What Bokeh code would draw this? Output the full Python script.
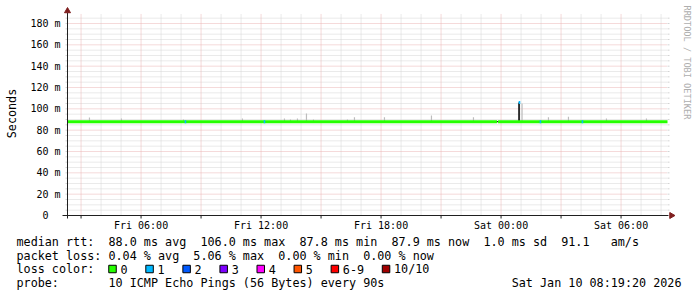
import math
from bokeh.plotting import figure
from bokeh.models import Range1d
from bokeh.embed import file_html
from bokeh.resources import INLINE
from bokeh.core.properties import value

# ---------------- data ----------------
t_start = 2 + 19 / 60 + 20 / 3600      # Fri 02:19:20, hours since Fri 00:00
t_span = 30.0                          # hours shown
t_end = t_start + t_span

x_label_hours = [6, 12, 18, 24, 30]
x_label_text = ["Fri 06:00", "Fri 12:00", "Fri 18:00", "Sat 00:00", "Sat 06:00"]
y_tick_ms = [0, 20, 40, 60, 80, 100, 120, 140, 160, 180]
y_tick_text = ["0\u00a0\u00a0", "20 m", "40 m", "60 m", "80 m", "100 m",
               "120 m", "140 m", "160 m", "180 m"]
y_top = 189.4                          # top of the plot area (ms)

# median rtt runs (ms), drawn in loss colour 0
med_from = [t_start, 23.85]
med_to = [23.80, t_end]
med_ms = [88.0, 88.0]

# short median samples with packet loss
loss_t = [8.22, 12.17, 24.92, 25.97, 28.07]
loss_ms = [88.0, 88.0, 106.0, 88.0, 88.0]
loss_count = [1, 1, 1, 1, 1]

# smoke (spread of the pings) spikes
smoke_t = [3.42, 5.02, 8.12, 11.07, 13.17, 13.47, 13.82, 14.27, 14.62, 16.32,
           16.67, 18.17, 20.52, 22.62, 25.05, 26.37, 27.37, 29.27, 31.27]
smoke_lo = [87.0] * 19
smoke_hi = [91.9, 90.9, 90.0, 91.0, 91.0, 90.0, 91.0, 95.6, 90.0, 90.0,
            92.0, 92.0, 93.7, 92.0, 105.0, 92.0, 92.5, 91.0, 91.0]
dense_t = [23.825, 24.90]
dense_lo = [87.4, 87.0]
dense_hi = [88.6, 106.0]

# legend statistics
med_avg, med_max, med_min, med_now, med_sd, med_ams = 88.0, 106.0, 87.8, 87.9, 1.0, 91.1
pl_avg, pl_max, pl_min, pl_now = 0.04, 5.06, 0.00, 0.00
loss_labels = ["0", "1", "2", "3", "4", "5", "6-9", "10/10"]
loss_colors = ["#26ff00", "#00b8ff", "#0059ff", "#7e00ff", "#ff00ff",
               "#ff5500", "#ff0000", "#a00000"]
probe_text = "10 ICMP Echo Pings (56 Bytes) every 90s"
stamp_text = "Sat Jan 10 08:19:20 2026"

# ---------------- styling / geometry ----------------
MONO = "DejaVu Sans Mono"
NB = "\u00a0"
W, H = 697, 297
PX_H = 20.0            # pixels per hour
PX_MS = 192.0 / 180.0  # pixels per ms
AX_X, AX_Y = 67, 215   # canvas position of the axes origin
GRID = "#d4d4d4"
MGRID = "#eab4b4"
AXIS = "#202020"
ARROW = "#7f1f1f"

xs = t_start - AX_X / PX_H
ys = -(H - AX_Y) / PX_MS


def X(px):
    return xs + px / PX_H


def Y(py):
    return (AX_Y - py) / PX_MS


p = figure(width=W, height=H, output_backend="svg", toolbar_location=None,
           x_range=Range1d(xs, xs + W / PX_H), y_range=Range1d(ys, ys + H / PX_MS),
           min_border=0, x_axis_location=None, y_axis_location=None,
           background_fill_color="white", border_fill_color="white",
           outline_line_color=None)
p.xgrid.visible = False
p.ygrid.visible = False

# grid
hours = list(range(math.ceil(t_start), math.floor(t_end) + 1))
h_minor = [h for h in hours if h % 3]
h_major = [h for h in hours if h % 3 == 0]
ms_lines = list(range(5, 190, 5))
ms_minor = [m for m in ms_lines if m % 20]
ms_major = [m for m in ms_lines if m % 20 == 0]
stub_x = 2 / PX_H
stub_y = 2 / PX_MS

p.segment(x0=h_minor, y0=0, x1=h_minor, y1=y_top, line_color=GRID, line_dash="1 1", line_width=1)
p.segment(x0=t_start, y0=ms_minor, x1=t_end, y1=ms_minor, line_color=GRID, line_dash="1 1", line_width=1)
p.segment(x0=h_major, y0=0, x1=h_major, y1=y_top, line_color=MGRID, line_dash="1 1", line_width=1)
p.segment(x0=t_start, y0=ms_major, x1=t_end, y1=ms_major, line_color=MGRID, line_dash="1 1", line_width=1)
p.segment(x0=t_start - stub_x, y0=ms_lines, x1=t_start, y1=ms_lines, line_color=GRID, line_width=1)
p.segment(x0=t_end, y0=ms_lines, x1=t_end + stub_x, y1=ms_lines, line_color=GRID, line_width=1)
p.segment(x0=h_major, y0=-1.5 * stub_y, x1=h_major, y1=0, line_color=AXIS, line_width=1)

# smoke
p.vbar(x=smoke_t, bottom=smoke_lo, top=smoke_hi, width=0.06, fill_color="#bdbdbd", line_color=None)
p.vbar(x=dense_t, bottom=dense_lo, top=dense_hi, width=0.09, fill_color="#222222", line_color=None)

# median line
p.segment(x0=med_from, y0=med_ms, x1=med_to, y1=med_ms, line_color=loss_colors[0],
          line_width=3, line_cap="butt")
p.segment(x0=[t - 0.04 for t in loss_t], y0=loss_ms, x1=[t + 0.04 for t in loss_t], y1=loss_ms,
          line_color=[loss_colors[c] for c in loss_count], line_width=3, line_cap="butt")

# axes with arrows
p.segment(x0=[t_start], y0=[Y(218)], x1=[t_start], y1=[Y(12)], line_color=AXIS, line_width=1)
p.segment(x0=[X(62)], y0=[0], x1=[X(668)], y1=[0], line_color=AXIS, line_width=1)
p.scatter(x=[t_start], y=[Y(10.5)], marker="triangle", size=6,
          fill_color=ARROW, line_color=ARROW)
p.scatter(x=[X(671)], y=[0], marker="triangle", size=6, angle=-math.pi / 2,
          fill_color=ARROW, line_color=ARROW)

# tick labels and axis title
tick_kw = dict(text_font=value(MONO), text_font_size="10px", text_color="black",
               text_baseline="middle")
p.text(x=x_label_hours, y=Y(225), text=x_label_text, text_align="center", **tick_kw)
p.text(x=X(60), y=y_tick_ms, text=y_tick_text, text_align="right", **tick_kw)
p.text(x=[X(11)], y=[Y(113)], text=["Seconds"], angle=math.pi / 2, text_align="center",
       text_baseline="middle", text_font=value(MONO), text_font_size="11.75px",
       text_color="black")

# watermark
p.text(x=[X(686)], y=[Y(5)], text=["RRDTOOL / TOBI OETIKER"],
       angle=-math.pi / 2, text_align="left", text_baseline="middle",
       text_font=value(MONO), text_font_size="8.6px", text_color="#aeaeae")

# ---------------- legend ----------------
row1 = (f"median rtt:  {med_avg:.1f} ms avg  {med_max:.1f} ms max  {med_min:.1f} ms min"
        f"  {med_now:.1f} ms now  {med_sd:.1f} ms sd  {med_ams:.1f}   am/s")
row2 = (f"packet loss: {pl_avg:.2f} % avg  {pl_max:.2f} % max  {pl_min:.2f} % min"
        f"  {pl_now:.2f} % now")
rows = [row1, row2, "loss color:", "probe:       " + probe_text]
rows = [r.replace(" ", NB) for r in rows]
txt_kw = dict(text_baseline="middle", text_font=value(MONO), text_font_size="11.75px",
              text_color="black")
row_y = [241, 255.5, 268.5, 282.5]
p.text(x=X(16), y=[Y(v) for v in row_y], text=rows, text_align="left", **txt_kw)
p.text(x=[X(681)], y=[Y(282.5)], text=[stamp_text.replace(" ", NB)], text_align="right", **txt_kw)

CW = 7.06
bx = []
tx = []
xb = 108.0
for lab in loss_labels:
    bx.append(X(xb + 4))
    tx.append(X(xb + 12))
    xb = xb + 12 + len(lab) * CW + 18
p.rect(x=bx, y=Y(268.5), width=7.5 / PX_H, height=7.5 / PX_MS, fill_color=loss_colors,
       line_color="black", line_width=1)
p.text(x=tx, y=Y(268.5), text=loss_labels, text_align="left", **txt_kw)

open("out.html", "w").write(file_html(p, INLINE))
